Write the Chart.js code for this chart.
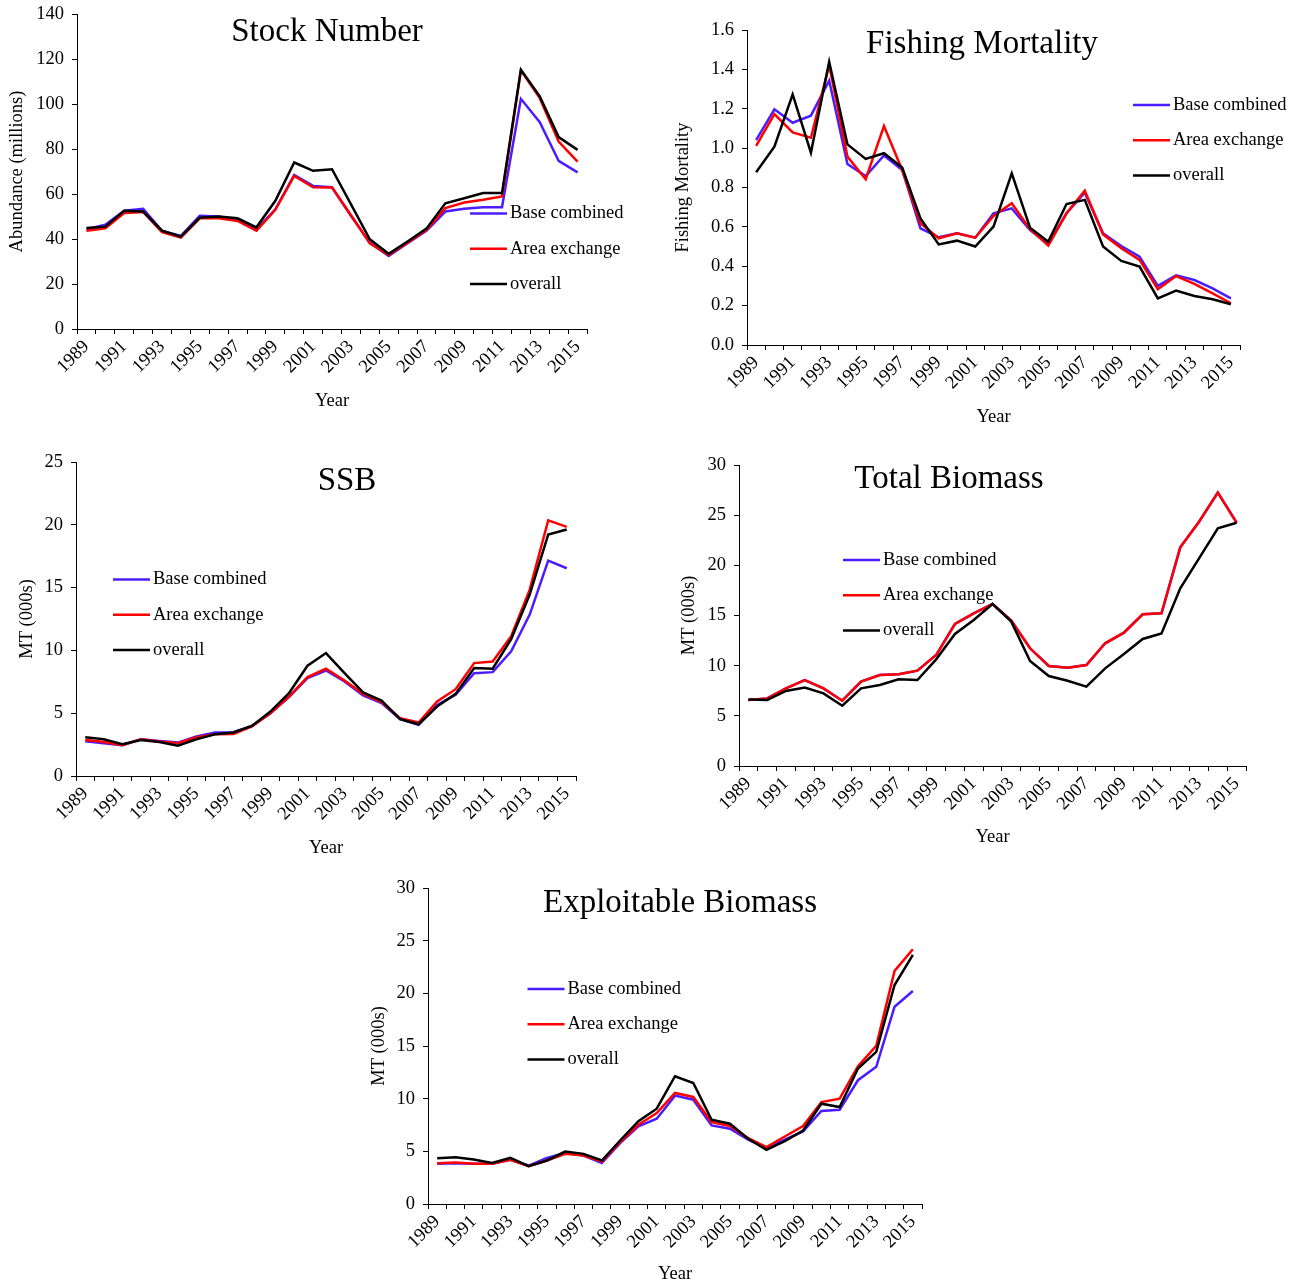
<!DOCTYPE html>
<html>
<head>
<meta charset="utf-8">
<title>Stock assessment comparison</title>
<script src="https://cdn.jsdelivr.net/npm/chart.js@4.4.0/dist/chart.umd.min.js"></script>
<style>
body { margin:0; background:#fff; width:1306px; height:1285px; overflow:hidden; position:relative; }
canvas { position:absolute; }
</style>
</head>
<body>
<canvas id="stock"></canvas>
<canvas id="fishing"></canvas>
<canvas id="ssb"></canvas>
<canvas id="total"></canvas>
<canvas id="exploit"></canvas>
<script>
const years = ["1989","1990","1991","1992","1993","1994","1995","1996","1997","1998","1999","2000","2001","2002","2003","2004","2005","2006","2007","2008","2009","2010","2011","2012","2013","2014","2015"];
const seriesNames = ["Base combined", "Area exchange", "overall"];

// Stock Number (millions)
const stockBase = [44.3,46.3,52.6,53.4,43.6,41.4,50.3,50.0,48.5,44.3,53.2,68.5,63.6,63.0,50.3,38.4,32.5,38.1,43.6,52.2,53.4,54.1,54.1,102.3,91.9,74.7,69.6];
const stockArea = [43.7,44.8,51.5,52.0,43.0,40.6,49.2,49.2,48.0,43.7,53.0,68.0,63.0,62.9,50.7,38.1,32.9,38.4,44.0,53.7,56.2,57.4,58.9,115.0,102.6,83.3,74.4];
const stockOverall = [44.9,45.5,52.6,52.2,43.7,41.1,49.5,50.0,49.2,45.2,57.0,74.0,70.3,71.0,55.5,39.9,33.4,38.9,44.6,55.9,58.1,60.4,60.4,115.2,103.4,85.3,79.6];

// Fishing Mortality
const fmBase = [1.041,1.197,1.129,1.165,1.343,0.919,0.858,0.963,0.889,0.593,0.547,0.567,0.545,0.669,0.694,0.584,0.513,0.669,0.774,0.567,0.503,0.449,0.300,0.354,0.330,0.288,0.237];
const fmArea = [1.012,1.173,1.080,1.053,1.422,0.957,0.842,1.112,0.889,0.618,0.542,0.567,0.545,0.655,0.720,0.588,0.505,0.669,0.784,0.562,0.491,0.432,0.283,0.350,0.310,0.262,0.212];
const fmOverall = [0.877,1.007,1.273,0.977,1.439,1.019,0.945,0.974,0.901,0.643,0.511,0.530,0.500,0.601,0.872,0.596,0.525,0.716,0.737,0.500,0.427,0.398,0.237,0.276,0.249,0.232,0.207];

// SSB, MT (000s)
const ssbBase = [2.77,2.61,2.45,2.93,2.79,2.66,3.14,3.46,3.48,3.99,5.00,6.28,7.79,8.40,7.53,6.41,5.80,4.52,4.07,5.66,6.46,8.19,8.27,9.92,12.85,17.15,16.54];
const ssbArea = [2.87,2.71,2.45,2.93,2.74,2.61,3.09,3.32,3.35,3.94,5.00,6.33,7.87,8.54,7.61,6.54,5.88,4.60,4.26,5.93,6.91,8.99,9.12,11.12,14.84,20.35,19.84];
const ssbOverall = [3.09,2.93,2.53,2.87,2.71,2.42,2.93,3.32,3.46,3.99,5.13,6.60,8.78,9.79,8.19,6.65,6.01,4.52,4.12,5.53,6.54,8.59,8.54,10.90,14.44,19.23,19.63];

// Total Biomass, MT (000s)
const totBase = [6.58,6.74,7.74,8.57,7.74,6.51,8.41,9.07,9.14,9.50,11.06,14.15,15.22,16.15,14.49,11.73,9.97,9.80,10.07,12.23,13.29,15.12,15.22,21.79,24.35,27.24,24.25];
const totArea = [6.58,6.74,7.74,8.57,7.74,6.51,8.41,9.07,9.14,9.50,11.06,14.15,15.22,16.15,14.49,11.73,9.97,9.80,10.07,12.23,13.29,15.12,15.22,21.79,24.35,27.24,24.25];
const totOverall = [6.64,6.58,7.48,7.81,7.24,6.01,7.74,8.07,8.64,8.57,10.63,13.16,14.55,16.15,14.39,10.47,8.97,8.50,7.91,9.73,11.16,12.66,13.22,17.71,20.70,23.69,24.25];

// Exploitable Biomass, MT (000s)
const expBase = [3.81,3.87,3.81,3.81,4.19,3.65,4.38,4.83,4.60,3.90,5.78,7.37,8.10,10.29,9.90,7.46,7.14,6.10,5.30,6.10,6.89,8.83,8.95,11.75,13.02,18.73,20.22];
const expArea = [3.87,3.94,3.81,3.81,4.19,3.59,4.13,4.76,4.60,4.03,5.87,7.52,8.63,10.54,10.16,7.78,7.40,6.25,5.40,6.41,7.40,9.68,10.00,13.08,15.02,22.13,24.19];
const expOverall = [4.35,4.44,4.22,3.90,4.38,3.59,4.13,4.98,4.76,4.13,6.03,7.87,9.05,12.13,11.49,8.00,7.62,6.19,5.14,5.97,6.98,9.52,9.21,12.86,14.44,20.79,23.65];

const colors = ["#4a1cff", "#ff0000", "#000000"];
const serif = "'Liberation Serif', 'Times New Roman', serif";
Chart.defaults.font.family = serif;
Chart.defaults.color = "#000";

// title + in-plot legend, drawn like the Excel original
const panelText = {
    id: "panelText",
    afterDraw(chart, args, opts) {
        const ctx = chart.ctx;
        ctx.save();
        ctx.fillStyle = "#000";
        ctx.font = "33px " + serif;
        ctx.textAlign = "center";
        ctx.textBaseline = "alphabetic";
        ctx.fillText(opts.title, opts.titleX, opts.titleY);
        ctx.font = "18.5px " + serif;
        ctx.textAlign = "left";
        ctx.textBaseline = "middle";
        chart.data.datasets.forEach(function(ds, i){
            const y = opts.legendY + i * 35.3;
            ctx.strokeStyle = ds.borderColor;
            ctx.lineWidth = 2.5;
            ctx.beginPath();
            ctx.moveTo(opts.legendX, y);
            ctx.lineTo(opts.legendX + 37, y);
            ctx.stroke();
            ctx.fillText(ds.label, opts.legendX + 40, y);
        });
        ctx.restore();
    }
};

function makeChart(id, p){

    const canvas = document.getElementById(id);
    const padTop = 24;
    const left = p.canvasLeft;
    const top = p.area[1] - padTop;
    const width = p.canvasRight - left;
    const height = p.canvasBottom - top;
    canvas.style.left = left + "px";
    canvas.style.top = top + "px";
    canvas.width = width;
    canvas.height = height;

    const yw = p.area[0] - left;
    const xh = p.canvasBottom - p.area[3];
    const font = { family: serif, size: 18.5 };

    const datasets = p.series.map(function(values, i){
        return {
            label: seriesNames[i],
            data: values,
            borderColor: colors[i],
            backgroundColor: colors[i],
            borderWidth: 2.5,
            pointRadius: 0,
            tension: 0,
            order: 3 - i
        };
    });

    return new Chart(canvas.getContext("2d"), {
        type: "line",
        data: { labels: years, datasets: datasets },
        plugins: [panelText],
        options: {
            responsive: false,
            animation: false,
            layout: { padding: { top: padTop, right: p.canvasRight - p.area[2], left: 0, bottom: 0 } },
            plugins: {
                legend: { display: false },
                tooltip: { enabled: false },
                panelText: {
                    title: p.title,
                    titleX: p.titlePos[0] - left,
                    titleY: p.titlePos[1] - top,
                    legendX: p.legendPos[0] - left,
                    legendY: p.legendPos[1] - top
                }
            },
            scales: {
                x: {
                    type: "category",
                    offset: true,
                    grid: { offset: true, drawOnChartArea: false, tickLength: 5, color: "#000", lineWidth: 1 },
                    border: { color: "#000", width: 1 },
                    ticks: {
                        autoSkip: false,
                        maxRotation: 45,
                        minRotation: 45,
                        padding: 2,
                        font: font,
                        color: "#000",
                        callback: function(v, i){
                            return i % 2 == 0 ? this.getLabelForValue(v) : "";
                        }
                    },
                    title: { display: true, text: "Year", font: font, color: "#000", padding: 4 },
                    afterFit: function(s){ s.height = xh; }
                },
                y: {
                    min: 0,
                    max: p.yMax,
                    grid: { drawOnChartArea: false, tickLength: 5, color: "#000", lineWidth: 1 },
                    border: { color: "#000", width: 1 },
                    ticks: {
                        stepSize: p.yStep,
                        padding: 8,
                        font: font,
                        color: "#000",
                        callback: function(v){ return v.toFixed(p.decimals); }
                    },
                    title: { display: true, text: p.yTitle, font: font, color: "#000", padding: 4 },
                    afterFit: function(s){ s.width = yw; }
                }
            }
        }
    });
}

makeChart("stock", {
    area: [77, 14, 587, 329], canvasLeft: 2, canvasBottom: 416, canvasRight: 652,
    yMax: 140, yStep: 20, decimals: 0, yTitle: "Abundance (millions)",
    series: [stockBase, stockArea, stockOverall],
    title: "Stock Number", titlePos: [327, 41], legendPos: [470, 213.5]
});

makeChart("fishing", {
    area: [747, 30, 1240, 345], canvasLeft: 668, canvasBottom: 432, canvasRight: 1306,
    yMax: 1.6, yStep: 0.2, decimals: 1, yTitle: "Fishing Mortality",
    series: [fmBase, fmArea, fmOverall],
    title: "Fishing Mortality", titlePos: [982, 53], legendPos: [1133, 105]
});

makeChart("ssb", {
    area: [76, 462, 576, 776], canvasLeft: 12, canvasBottom: 863, canvasRight: 610,
    yMax: 25, yStep: 5, decimals: 0, yTitle: "MT (000s)",
    series: [ssbBase, ssbArea, ssbOverall],
    title: "SSB", titlePos: [347, 490], legendPos: [113, 579.5]
});

makeChart("total", {
    area: [739, 465, 1246, 766], canvasLeft: 674, canvasBottom: 852, canvasRight: 1290,
    yMax: 30, yStep: 5, decimals: 0, yTitle: "MT (000s)",
    series: [totBase, totArea, totOverall],
    title: "Total Biomass", titlePos: [949, 488], legendPos: [843, 560]
});

makeChart("exploit", {
    area: [428, 888, 922, 1204], canvasLeft: 364, canvasBottom: 1289, canvasRight: 960,
    yMax: 30, yStep: 5, decimals: 0, yTitle: "MT (000s)",
    series: [expBase, expArea, expOverall],
    title: "Exploitable Biomass", titlePos: [680, 912], legendPos: [527.5, 989]
});
</script>
</body>
</html>
